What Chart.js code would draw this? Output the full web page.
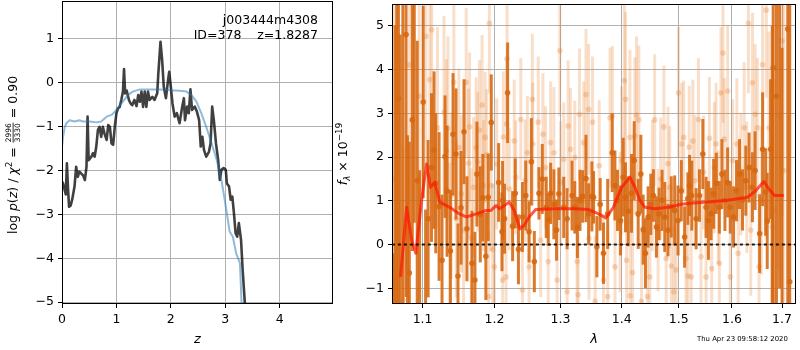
<!DOCTYPE html>
<html>
<head>
<meta charset="utf-8">
<script src="https://cdn.jsdelivr.net/npm/chart.js@4.4.1/dist/chart.umd.min.js"></script>
<style>
  body { margin: 0; background: #fff; width: 800px; height: 350px; position: relative; overflow: hidden; }
  #pz { position: absolute; left: 0; top: 0; }
  #sed { position: absolute; left: 334px; top: 0; }
  .ann { position: absolute; right: 482px; font: 12.5px 'DejaVu Sans'; line-height: 14px; white-space: pre; text-align: right; color: #000; }
  #stamp { position: absolute; left: 697px; top: 335px; font: 6.9px 'DejaVu Sans'; line-height: 8px; white-space: pre; color: #000; }
</style>
</head>
<body>
<canvas id="pz" width="334" height="350"></canvas>
<canvas id="sed" width="466" height="350"></canvas>
<div class="ann" style="top:13px">j003444m4308</div>
<div class="ann" style="top:28px">ID=378    z=1.8287</div>
<div id="stamp">Thu Apr 23 09:58:12 2020</div>
<script>
// ---- p(z) panel ----
let pzZ = [0.00,0.02,0.05,0.07,0.09,0.11,0.13,0.16,0.19,0.23,
    0.26,0.29,0.32,0.35,0.39,0.42,0.45,0.47,0.49,0.54,
    0.57,0.60,0.63,0.66,0.69,0.72,0.75,0.78,0.82,0.85,
    0.88,0.91,0.94,0.97,1.00,1.03,1.06,1.09,1.12,1.14,
    1.16,1.19,1.23,1.26,1.29,1.33,1.37,1.40,1.43,1.46,
    1.49,1.52,1.55,1.58,1.61,1.66,1.70,1.75,1.77,1.81,
    1.84,1.87,1.91,1.95,1.97,2.00,2.03,2.07,2.11,2.16,
    2.21,2.24,2.26,2.30,2.33,2.36,2.39,2.44,2.48,2.52,
    2.55,2.58,2.61,2.65,2.70,2.73,2.76,2.79,2.83,2.87,
    2.90,2.93,2.97,3.01,3.03,3.07,3.10,3.13,3.16,3.19,
    3.22,3.25,3.29,3.32,3.36,3.40];
let pzLog = [-2.26,-2.30,-2.45,-2.55,-1.84,-2.40,-2.83,-2.80,-2.65,-2.37,
    -1.92,-2.15,-2.03,-2.07,-2.12,-2.22,-1.92,-0.78,-1.77,-1.69,
    -1.61,-1.69,-1.46,-1.08,-1.01,-1.24,-1.01,-1.16,-1.31,-0.97,
    -1.01,-1.39,-1.42,-1.01,-0.70,-0.59,-0.56,-0.40,-0.21,0.30,
    -0.25,-0.19,-0.40,-0.48,-0.52,-0.40,-0.54,-0.29,-0.44,-0.21,
    -0.56,-0.21,-0.56,-0.21,-0.40,-0.33,-0.40,-0.25,0.20,0.92,
    0.51,-0.10,-0.36,0.06,0.24,-0.10,-0.48,-0.78,-0.70,-0.93,
    -0.55,-0.36,-0.86,-0.55,-0.70,-0.16,-0.63,-0.55,-0.67,-0.86,
    -1.46,-1.24,-1.54,-1.69,-1.58,-1.39,-0.55,-0.86,-1.39,-1.77,
    -2.22,-1.99,-1.95,-1.99,-2.30,-2.37,-2.67,-2.60,-2.98,-3.43,
    -3.51,-3.20,-3.58,-4.27,-5.02,-5.80];

let chiZ = [0.00,0.02,0.05,0.08,0.14,0.23,0.32,0.38,0.51,0.63,
    0.72,0.82,0.91,0.97,1.03,1.12,1.21,1.30,1.43,1.61,
    1.80,1.98,2.16,2.29,2.38,2.47,2.56,2.65,2.75,2.84,
    2.93,3.02,3.08,3.14,3.20,3.27,3.30,3.32];
let chiLog = [-1.46,-1.24,-1.02,-0.93,-0.86,-0.89,-0.86,-0.89,-0.89,-0.91,
    -0.89,-0.78,-0.74,-0.67,-0.57,-0.44,-0.29,-0.21,-0.16,-0.16,
    -0.16,-0.18,-0.19,-0.21,-0.29,-0.44,-0.70,-1.01,-1.39,-1.75,
    -2.22,-2.90,-3.39,-3.51,-3.89,-4.11,-5.02,-5.50];

let zTicks = [0, 1, 2, 3, 4];
let pzTicks = [-5, -4, -3, -2, -1, 0, 1];

// ---- spectrum panel ----
let darkLam = [1.0615,1.0640,1.0660,1.0683,1.0705,1.0740,1.0782,1.0800,1.0825,1.0864,
    1.0890,1.0929,1.0960,1.1008,1.1040,1.1074,1.1119,1.1154,1.1177,1.1222,
    1.1262,1.1303,1.1331,1.1377,1.1413,1.1454,1.1482,1.1524,1.1566,1.1607,
    1.1678,1.1720,1.1748,1.1796,1.1833,1.1876,1.1911,1.1954,1.2061,1.2110,
    1.2119,1.2148,1.2193,1.2267,1.2306,1.2354,1.2414,1.2464,1.2514,1.2549,
    1.2594,1.2665,1.2716,1.2777,1.2808,1.2845,1.2896,1.2938,1.2973,1.3051,
    1.3104,1.3183,1.3226,1.3268,1.3310,1.3353,1.3407,1.3450,1.3503,1.3531,
    1.3585,1.3640,1.3694,1.3764,1.3840,1.3885,1.3929,1.3980,1.4025,1.4064,
    1.4111,1.4167,1.4213,1.4282,1.4328,1.4368,1.4408,1.4455,1.4502,1.4548,
    1.4601,1.4648,1.4701,1.4749,1.4807,1.4866,1.4927,1.4988,1.5047,1.5108,
    1.5168,1.5199,1.5240,1.5320,1.5382,1.5445,1.5506,1.5550,1.5600,1.5649,
    1.5699,1.5757,1.5806,1.5864,1.5916,1.5967,1.6031,1.6089,1.6147,1.6205,
    1.6270,1.6335,1.6401,1.6454,1.6545,1.6605,1.6665,1.6698,1.6766,1.6800,
    1.6819,1.6886,1.6950,1.7000,1.7118,1.7159];
let darkFlux = [-2.5,-3.0,6.5,3.34,-2.2,6.5,4.80,-2.0,-0.65,2.85,
    6.0,1.46,-1.8,3.26,-1.7,0.59,1.76,2.16,1.40,0.87,
    -0.36,2.01,1.22,-0.15,2.52,2.07,-0.72,0.84,2.58,0.36,
    -0.43,-0.81,1.61,0.69,1.07,-0.27,1.08,2.79,1.42,0.29,
    1.01,0.59,3.47,0.42,1.17,-0.11,0.63,1.12,0.29,1.89,
    -0.39,1.17,1.50,0.85,0.57,1.17,0.92,0.33,1.16,0.85,
    0.59,1.12,0.85,0.39,1.01,1.10,1.51,0.70,1.10,1.08,
    -0.05,0.92,-0.20,0.70,2.10,1.35,1.01,0.55,1.54,1.08,
    0.76,1.17,1.92,0.70,1.61,0.34,-0.20,0.63,0.92,1.12,
    0.40,0.70,1.01,0.63,0.33,0.86,0.78,0.55,1.23,0.17,
    1.05,1.35,1.12,0.59,1.12,2.07,0.85,0.55,0.70,1.16,
    1.40,0.85,1.61,1.01,1.42,0.85,0.63,1.23,1.61,1.02,
    1.46,1.76,1.31,1.69,0.25,2.18,1.20,0.54,2.18,-3.0,
    4.04,3.39,7.0,-3.5,4.93,-0.85];
let darkErr = [2.3,8.0,9.0,6.0,7.0,8.0,6.0,4.5,3.0,3.0,
    5.5,3.2,3.5,2.2,2.5,1.8,1.7,1.8,1.6,1.7,
    1.5,1.4,1.5,1.4,1.4,1.5,1.2,1.3,1.2,1.2,
    1.2,1.1,1.2,1.1,1.0,1.0,1.0,1.1,0.9,0.9,
    0.9,0.8,1.15,0.8,0.8,0.8,0.8,0.8,0.7,1.0,
    0.7,0.6,0.8,0.7,0.6,0.7,0.8,0.7,0.6,0.7,
    0.7,0.8,0.6,0.7,0.7,0.6,1.0,0.7,0.8,0.6,
    0.7,0.6,0.7,0.8,0.9,0.8,0.7,0.8,0.9,0.8,
    0.8,0.9,0.9,0.8,0.9,0.8,0.8,0.7,0.7,0.6,
    0.7,0.6,0.7,0.8,0.6,0.7,0.8,0.8,0.7,0.7,
    0.6,0.7,0.8,0.7,0.6,0.8,0.7,0.9,0.6,0.8,
    0.7,0.6,0.8,0.7,0.8,0.6,0.7,0.7,0.8,0.7,
    0.8,0.8,0.8,0.9,0.9,1.3,1.0,1.1,1.6,8.0,
    8.0,8.0,8.0,8.0,8.0,8.0];

let lightLam = [1.0620,1.0745,1.0825,1.0955,1.1044,1.1097,1.1123,1.1200,1.1289,1.1321,
    1.1343,1.1367,1.1389,1.1425,1.1458,1.1493,1.1528,1.1560,1.1597,1.1630,
    1.1644,1.1667,1.1700,1.1737,1.1760,1.1784,1.1822,1.1841,1.1865,1.1888,
    1.1917,1.1927,1.1951,1.1975,1.2000,1.2033,1.2119,1.2130,1.2170,1.2178,
    1.2185,1.2217,1.2291,1.2315,1.2389,1.2414,1.2454,1.2488,1.2514,1.2563,
    1.2570,1.2654,1.2691,1.2726,1.2767,1.2808,1.2845,1.2896,1.2947,1.2989,
    1.3000,1.3051,1.3104,1.3120,1.3157,1.3226,1.3263,1.3279,1.3302,1.3369,
    1.3407,1.3450,1.3455,1.3514,1.3557,1.3623,1.3694,1.3764,1.3804,1.3843,
    1.3887,1.3971,1.3999,1.4044,1.4066,1.4083,1.4140,1.4145,1.4185,1.4226,
    1.4253,1.4294,1.4339,1.4442,1.4484,1.4529,1.4570,1.4630,1.4677,1.4734,
    1.4775,1.4807,1.4837,1.4866,1.4913,1.4954,1.4996,1.5055,1.5091,1.5133,
    1.5168,1.5193,1.5229,1.5259,1.5300,1.5363,1.5411,1.5461,1.5506,1.5568,
    1.5612,1.5662,1.5694,1.5737,1.5757,1.5787,1.5826,1.5852,1.5916,1.5967,
    1.6012,1.6095,1.6121,1.6172,1.6238,1.6289,1.6322,1.6368,1.6402,1.6455,
    1.6499,1.6533,1.6579,1.6605,1.6679,1.6732,1.6799,1.6846,1.6934,1.7002,
    1.7037];
let lightFlux = [1.5,-1.27,4.11,3.39,4.76,3.77,4.91,2.67,3.03,2.14,
    2.66,-0.13,1.12,3.71,0.59,2.22,1.16,0.33,3.71,1.86,
    2.69,0.14,1.31,2.22,1.89,2.62,3.19,1.35,2.45,2.05,
    -1.19,5.06,1.35,-0.11,-0.51,1.84,-0.81,2.46,-0.74,2.75,
    4.25,1.27,2.37,1.54,2.86,-1.04,1.46,2.10,-0.51,3.32,
    2.30,2.80,0.10,2.52,1.76,-0.39,2.33,2.10,-0.81,4.43,
    1.42,1.95,-1.08,2.71,2.18,1.99,-0.39,-1.15,2.98,2.33,
    3.43,3.09,0.14,2.80,-1.30,1.80,-0.81,-1.19,2.90,2.94,
    -0.51,0.51,1.92,3.75,3.32,-0.36,2.45,-1.17,-0.64,2.48,
    2.96,2.85,-1.30,-1.19,-0.74,1.35,2.85,0.33,1.50,2.69,
    -0.32,1.85,1.31,-0.49,-1.08,-0.58,3.47,2.30,2.45,-0.32,
    -0.72,2.23,-0.74,2.37,1.46,2.86,-0.28,1.65,-0.74,2.43,
    -0.55,1.76,2.30,0.85,-0.43,3.47,4.38,2.41,3.51,-0.74,
    1.92,2.30,-0.20,1.61,2.67,1.31,5.06,0.33,3.70,2.98,
    2.67,-0.51,1.01,4.11,5.36,2.67,0.40,0.78,2.94,4.66,
    1.69];
let lightErr = [5.0,3.5,3.5,3.0,3.0,2.6,2.6,2.3,2.2,2.1,
    2.1,2.0,1.9,1.9,1.8,1.8,1.8,1.7,1.7,1.7,
    1.7,1.6,1.6,1.6,1.6,1.6,1.6,1.5,1.5,1.5,
    1.5,1.6,1.5,1.5,1.4,1.5,1.4,1.5,1.4,1.5,
    1.5,1.4,1.4,1.3,1.4,1.5,1.4,1.3,1.4,1.5,
    1.4,1.5,1.3,1.4,1.4,1.3,1.4,1.5,1.4,1.5,
    1.4,1.3,1.4,1.5,1.4,1.3,1.4,1.4,1.5,1.4,
    1.5,1.5,1.4,1.5,1.5,1.5,1.5,1.5,1.6,1.6,
    1.6,1.6,1.7,1.8,2.0,1.7,2.0,1.7,1.7,1.8,
    1.8,1.7,1.6,1.5,1.5,1.5,1.5,1.4,1.4,1.4,
    1.4,1.3,1.4,1.4,1.5,1.4,1.5,1.4,1.3,1.4,
    1.4,1.4,1.3,1.4,1.5,1.4,1.4,1.3,1.4,1.4,
    1.4,1.5,1.4,1.3,1.4,1.5,1.6,1.4,1.5,1.4,
    1.4,1.5,1.4,1.4,1.5,1.5,1.6,1.5,1.6,1.6,
    1.6,1.6,1.7,1.8,2.0,2.2,2.6,3.0,3.5,4.0,
    4.0];

let modelLam = [1.0710,1.0790,1.0855,1.0910,1.0987,1.1053,1.1106,1.1164,1.1231,1.1367,
    1.1504,1.1597,1.1738,1.1880,1.1950,1.2024,1.2072,1.2144,1.2217,1.2290,
    1.2375,1.2440,1.2514,1.2615,1.2923,1.3236,1.3450,1.3613,1.3733,1.3860,
    1.3999,1.4140,1.4226,1.4312,1.4398,1.4573,1.4808,1.5046,1.5259,1.5537,
    1.5916,1.6302,1.6466,1.6632,1.6732,1.6846,1.7037];
let modelFlux = [-0.74,0.85,0.10,-0.20,1.01,1.84,1.31,1.42,0.97,0.85,
    0.70,0.63,0.70,0.78,0.78,0.89,0.82,0.89,0.97,0.78,
    0.36,0.44,0.63,0.80,0.82,0.82,0.80,0.70,0.61,0.85,
    1.31,1.54,1.31,1.01,0.85,0.82,0.85,0.92,0.95,0.97,
    1.01,1.08,1.23,1.44,1.27,1.12,1.12];

let zeroLam = [1.0, 1.8];
let zeroFlux = [0, 0];

let lamTicks = [1.1, 1.2, 1.3, 1.4, 1.5, 1.6, 1.7];
let fluxTicks = [-1, 0, 1, 2, 3, 4, 5];

const FONT = "'DejaVu Sans', sans-serif";
const fnt = (size, italic) => (italic ? 'italic ' : '') + size + 'px ' + FONT;
const minus = v => String(v).replace('-', '\u2212');
const pairs = (xs, ys) => xs.map((x, i) => ({ x: x, y: ys[i] }));

// vertical error bars drawn just before each dataset's markers
const errorBars = {
    id: 'errorBars',
    beforeDatasetDraw(chart, args) {
        let ds = chart.data.datasets[args.index];
        if (!ds.errors) return;
        let xs = chart.scales.x, ys = chart.scales.y, a = chart.chartArea;
        let ctx = chart.ctx;
        ctx.save();
        ctx.beginPath();
        ctx.rect(a.left, a.top, a.right - a.left, a.bottom - a.top);
        ctx.clip();
        ctx.strokeStyle = ds.barColor;
        ctx.lineWidth = 3;
        ds.data.forEach((p, i) => {
            let px = xs.getPixelForValue(p.x);
            ctx.beginPath();
            ctx.moveTo(px, ys.getPixelForValue(p.y - ds.errors[i]));
            ctx.lineTo(px, ys.getPixelForValue(p.y + ds.errors[i]));
            ctx.stroke();
        });
        ctx.restore();
    }
};

const frame = {
    id: 'frame',
    afterDraw(chart) {
        let a = chart.chartArea, ctx = chart.ctx;
        ctx.save();
        ctx.strokeStyle = '#000';
        ctx.lineWidth = 1;
        ctx.strokeRect(Math.round(a.left) + 0.5, Math.round(a.top) + 0.5,
            Math.round(a.right - a.left) - 1, Math.round(a.bottom - a.top) - 1);
        ctx.restore();
    }
};

// rotated axis label made of pieces (for the math bits)
function drawPieces(ctx, pieces, cx, cy) {
    let total = 0;
    pieces.forEach(p => {
        ctx.font = p.font;
        p.w = p.frac ? Math.max(ctx.measureText(p.frac[0]).width, ctx.measureText(p.frac[1]).width) + 2
                     : ctx.measureText(p.t).width;
        total += p.w;
    });
    ctx.save();
    ctx.translate(cx, cy);
    ctx.rotate(-Math.PI / 2);
    ctx.fillStyle = '#000';
    ctx.textBaseline = 'alphabetic';
    let x = -total / 2;
    pieces.forEach(p => {
        ctx.font = p.font;
        if (p.frac) {
            ctx.textAlign = 'center';
            ctx.fillText(p.frac[0], x + p.w / 2, p.numY);
            ctx.fillText(p.frac[1], x + p.w / 2, p.denY);
            ctx.fillRect(x + 0.5, p.barY, p.w - 1, 0.8);
        } else {
            ctx.textAlign = 'left';
            ctx.fillText(p.t, x, p.dy || 0);
        }
        x += p.w;
    });
    ctx.restore();
}

// axis options shared by both panels; fixed box sizes keep the plot areas where they are
function axisStyle(ticks, fmt, box, extra) {
    return Object.assign({
        afterBuildTicks: s => { s.ticks = ticks.map(v => ({ value: v })); },
        afterFit: s => {
            if (box.height) s.height = box.height;
            if (box.width) s.width = box.width;
            s.paddingTop = 0; s.paddingBottom = 0; s.paddingLeft = 0; s.paddingRight = 0;
        },
        ticks: { color: '#000', font: { family: FONT, size: 12.5 }, padding: 4,
                 autoSkip: false, maxRotation: 0, callback: fmt },
        grid: { color: '#b0b0b0', lineWidth: 1, tickColor: '#000', tickWidth: 1, tickLength: 4 },
        border: { display: false }
    }, extra);
}

Chart.defaults.font.family = FONT;

// left: p(z)
new Chart(document.getElementById('pz'), {
    type: 'scatter',
    data: {
        datasets: [
            { data: pairs(chiZ, chiLog), showLine: true, pointRadius: 0, borderWidth: 2,
              borderColor: 'rgba(31,119,180,0.5)', borderJoinStyle: 'round', order: 1 },
            { data: pairs(pzZ, pzLog), showLine: true, pointRadius: 0, borderWidth: 2.6,
              borderColor: 'rgba(0,0,0,0.75)', borderJoinStyle: 'round', order: 2 }
        ]
    },
    options: {
        responsive: false, animation: false, devicePixelRatio: 1, events: [],
        layout: { padding: { top: 1, right: 1, left: 0, bottom: 0 } },
        plugins: { legend: { display: false }, tooltip: { enabled: false } },
        scales: {
            x: axisStyle(zTicks, v => minus(v), { height: 46 }, {
                type: 'linear', min: 0, max: 4.98,
                title: { display: true, text: 'z', color: '#000',
                         font: { family: FONT, size: 13, style: 'italic' }, padding: { top: 0, bottom: 2.5 } }
            }),
            y: axisStyle(pzTicks, v => minus(v), { width: 62 }, {
                type: 'linear', min: -5.04, max: 1.85
            })
        }
    },
    plugins: [frame, {
        id: 'pzTitle',
        afterDraw(chart) {
            drawPieces(chart.ctx, [
                { t: 'log ', font: fnt(12.5) },
                { t: 'p', font: fnt(12.5, true) },
                { t: '(', font: fnt(12.5) },
                { t: 'z', font: fnt(12.5, true) },
                { t: ') / ', font: fnt(12.5) },
                { t: '\u03c7', font: fnt(12.5, true) },
                { t: '2', font: fnt(8.8), dy: -5 },
                { t: ' = ', font: fnt(12.5) },
                { frac: ['2996', '3330'], font: fnt(7.5), numY: -5.6, barY: -4.3, denY: 3 },
                { t: ' = 0.90', font: fnt(12.5) }
            ], 17, 155);
        }
    }]
});

// right: spectrum
new Chart(document.getElementById('sed'), {
    type: 'scatter',
    data: {
        datasets: [
            { data: pairs(zeroLam, zeroFlux), showLine: true, pointRadius: 0, borderWidth: 2,
              borderColor: 'rgba(0,0,0,0.85)', borderDash: [3, 3], order: 1 },
            { data: pairs(modelLam, modelFlux), showLine: true, pointRadius: 0, borderWidth: 3,
              borderColor: 'rgba(255,20,0,0.7)', borderJoinStyle: 'round', order: 2 },
            { data: pairs(darkLam, darkFlux), errors: darkErr, barColor: 'rgba(214,104,16,0.88)',
              pointRadius: 2.8, pointBorderWidth: 0, pointBackgroundColor: 'rgba(214,104,16,0.88)', order: 3 },
            { data: pairs(lightLam, lightFlux), errors: lightErr, barColor: 'rgba(230,130,50,0.26)',
              pointRadius: 2.8, pointBorderWidth: 0, pointBackgroundColor: 'rgba(230,130,50,0.3)', order: 4 }
        ]
    },
    options: {
        responsive: false, animation: false, devicePixelRatio: 1, events: [],
        layout: { padding: { top: 1, right: 1, left: 0, bottom: 0 } },
        plugins: { legend: { display: false }, tooltip: { enabled: false } },
        scales: {
            x: axisStyle(lamTicks, v => v.toFixed(1), { height: 46 }, {
                type: 'logarithmic', min: 1.06, max: 1.729, z: 1,
                title: { display: true, text: '\u03bb', color: '#000',
                         font: { family: FONT, size: 13, style: 'italic' }, padding: { top: 0, bottom: 2.5 } }
            }),
            y: axisStyle(fluxTicks, v => minus(v), { width: 58 }, {
                type: 'linear', min: -1.36, max: 5.5, z: 1
            })
        }
    },
    plugins: [errorBars, frame, {
        id: 'sedTitle',
        afterDraw(chart) {
            drawPieces(chart.ctx, [
                { t: 'f', font: fnt(12.5, true) },
                { t: '\u03bb', font: fnt(8.8, true), dy: 2.5 },
                { t: ' \u00d7 10', font: fnt(12.5) },
                { t: '\u221219', font: fnt(8.8), dy: -5 }
            ], 13, 154);
        }
    }]
});
</script>
</body>
</html>
